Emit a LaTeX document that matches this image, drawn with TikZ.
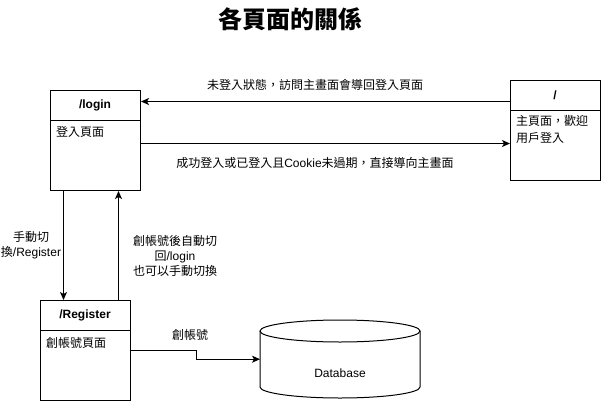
\documentclass[tikz,border=0pt]{standalone}
\usepackage{fontspec}
\setmainfont{Liberation Sans}
\newfontfamily\cjk{Noto Sans CJK TC}
\usetikzlibrary{arrows.meta}
\begin{document}
\begin{tikzpicture}[x=1pt,y=-1pt,
  font=\fontsize{12}{15}\selectfont,
  box/.style={draw, line width=1pt, minimum width=90pt, minimum height=100pt, inner sep=0pt, anchor=north west},
  hdr/.style={font=\fontsize{12}{15}\selectfont\bfseries, inner sep=0pt},
  body/.style={inner sep=0pt, align=left, anchor=north west},
  arr/.style={draw, line width=1pt, -{Stealth[length=8pt,width=7pt,inset=2pt]}},
  lbl/.style={inner sep=0pt, align=center}]
\useasboundingbox (0,0) rectangle (601,401);
\fill[white] (0,0) rectangle (601,401);

% title
\node[inner sep=0pt, font=\fontsize{24}{28}\selectfont\bfseries\cjk] (title) at (290,19) {各頁面的關係};

% /login box
\node[box] (login) at (50,90) {};
\draw[line width=1pt] (50,120) -- (140,120);
\node[hdr] (loginh) at (95,105) {/login};
\node[body] (loginb) at (56,126) {\cjk 登入頁面};

% / box
\node[box] (home) at (510,80) {};
\draw[line width=1pt] (510,110) -- (600,110);
\node[hdr] (homeh) at (555,95) {/};
\node[body, font=\fontsize{12}{17}\selectfont] (homeb) at (516,115) {\cjk 主頁面，歡迎\\\cjk 用戶登入};

% /Register box
\node[box] (reg) at (40,300) {};
\draw[line width=1pt] (40,330) -- (130,330);
\node[hdr] (regh) at (85,315) {/Register};
\node[body] (regb) at (46,337) {\cjk 創帳號頁面};

% database
\node[inner sep=0pt, minimum width=160pt, minimum height=78pt, anchor=north west] (db) at (260,320) {};
\draw[line width=1pt] (340,331) ellipse [x radius=80, y radius=11];
\draw[line width=1pt] (260,331) -- (260,387) arc[start angle=180, end angle=0, x radius=80, y radius=11] -- (420,331);
\node[inner sep=0pt] (dbt) at (340,373) {Database};

% connectors
\draw[arr] ([yshift=29pt]home.west) -- ([yshift=39pt]login.east);
\node[lbl] (l1) at (315,85) {\cjk 未登入狀態，訪問主畫面會導回登入頁面};

\draw[arr] ([yshift=-3pt]login.east) -- ([yshift=-13pt]home.west);
\node[lbl] (l2) at (315,163) {\cjk 成功登入或已登入且\normalfont Cookie\cjk 未過期，直接導向主畫面};

\draw[arr] ([xshift=-32pt]login.south) -- ([xshift=-22pt]reg.north);
\node[lbl, fill=white] (l3) at (31,245.5) {\cjk 手動切\\\cjk 換\normalfont /Register};

\draw[arr] ([xshift=33pt]reg.north) -- ([xshift=23pt]login.south);
\node[lbl] (l4) at (175,256) {\cjk 創帳號後自動切\\\cjk 回\normalfont /login\\\cjk 也可以手動切換};

\draw[arr] (reg.east) -- ++(65,0) |- (db.west);
\node[lbl] (l5) at (190,335) {\cjk 創帳號};
\end{tikzpicture}
\end{document}
